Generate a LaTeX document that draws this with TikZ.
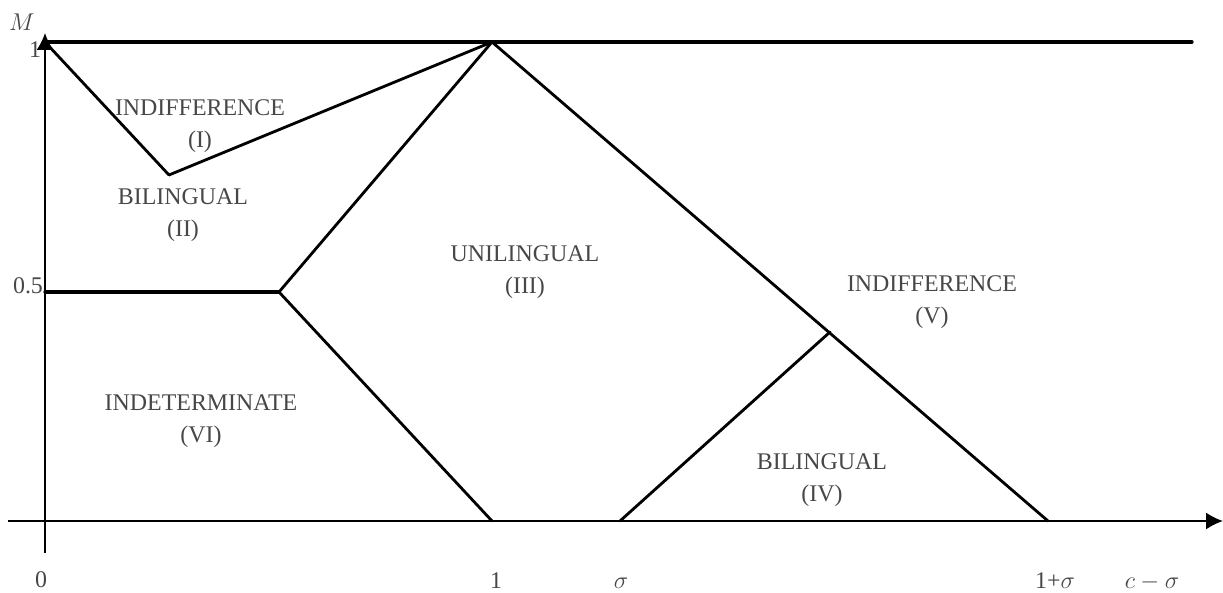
\documentclass[tikz,border=0pt]{standalone}
\usepackage{fontspec}
\setmainfont{Liberation Serif}
\usetikzlibrary{arrows.meta}

\begin{document}
\begin{tikzpicture}[x=0.025cm, y=-0.025cm, line width=2pt, line cap=round,
        every node/.style={text=black!72, font=\fontsize{17}{22.5}\selectfont, inner sep=0pt},
        lbl/.style={align=center},
        axis/.style={line width=1.3pt, line cap=butt, -{Latex[length=0.42cm, width=0.42cm]}}]
            \useasboundingbox (0,0) rectangle (1223,592);

            % axes
            \coordinate (xs) at (8,521);
            \coordinate (xe) at (1223,521);
            \coordinate (ys) at (45,553);
            \coordinate (ye) at (45,33);
            \draw[axis] (xs) -- (xe);
            \draw[axis] (ys) -- (ye);

            % corner points of the regions
            \coordinate (a) at (45,42);
            \coordinate (b) at (169,175);
            \coordinate (c) at (492,42);
            \coordinate (d) at (45,292);
            \coordinate (e) at (279,292);
            \coordinate (f) at (492,521);
            \coordinate (g) at (620,521);
            \coordinate (h) at (830,332);
            \coordinate (k) at (1048,521);
            \coordinate (m) at (1192,42);

            \draw[line width=2.3pt] (a) edge (m);
            \draw (a) edge (b);
            \draw (b) edge (c);
            \draw (c) edge (e);
            \draw[line width=2.3pt] (d) edge (e);
            \draw (e) edge (f);
            \draw (c) edge (k);
            \draw (g) edge (h);

            % region names
            \node[lbl] (r1) at (200,126) {INDIFFERENCE\\(I)};
            \node[lbl] (r2) at (183,215) {BILINGUAL\\(II)};
            \node[lbl] (r3) at (525,272) {UNILINGUAL\\(III)};
            \node[lbl] (r4) at (822,480) {BILINGUAL\\(IV)};
            \node[lbl] (r5) at (932,302) {INDIFFERENCE\\(V)};
            \node[lbl] (r6) at (201,421) {INDETERMINATE\\(VI)};

            % tick labels
            \node (lm) at (22,22) {$M$};
            \node (ly1) at (35,50) {1};
            \node (ly5) at (28,286) {0.5};
            \node (lx0) at (41,580) {0};
            \node (lx1) at (496,581) {1};
            \node (lxs) at (621,583) {$\sigma$};
            \node (lx1s) at (1055,581) {1+$\sigma$};
            \node (lxc) at (1152,582) {$c-\sigma$};
        \end{tikzpicture}
\end{document}
